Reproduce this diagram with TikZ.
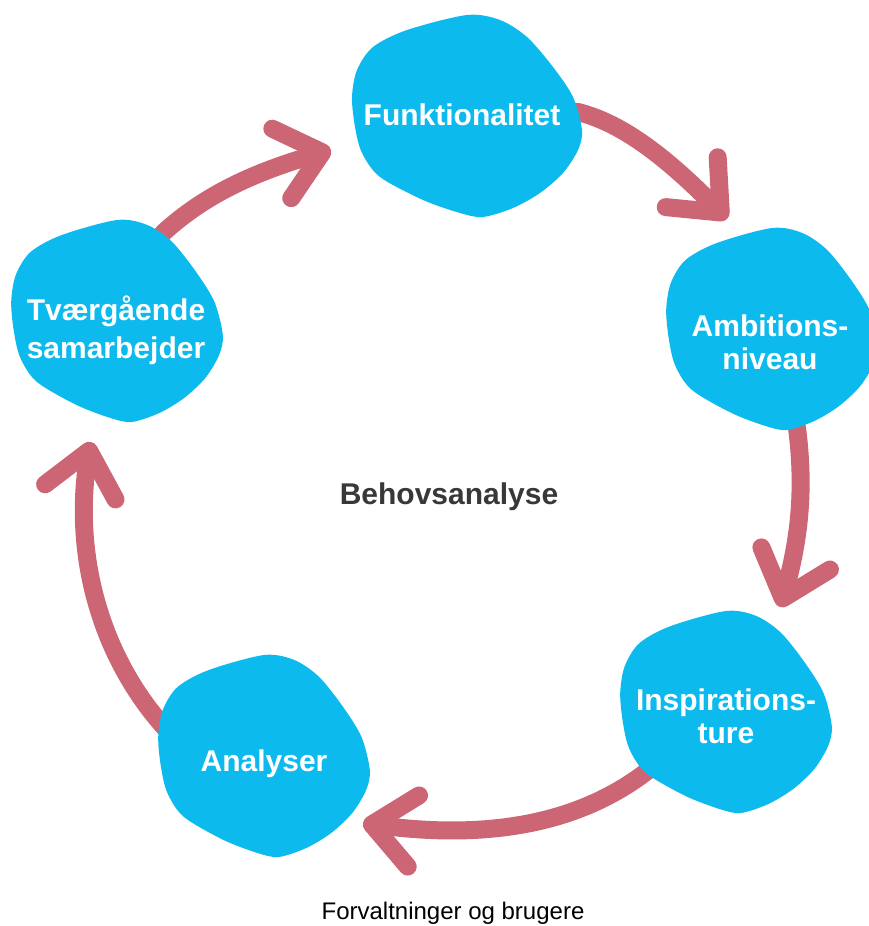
\documentclass[tikz,border=0pt]{standalone}
\usepackage{fontspec}
\setmainfont{Liberation Sans}
\usepackage{xcolor}
\usepackage{tikz}
\usetikzlibrary{arrows.meta,bending}
\definecolor{blobblue}{HTML}{0DBAED}
\definecolor{arrowred}{HTML}{CD6674}
\definecolor{titlegray}{HTML}{383838}
\tikzset{loopline/.style={->,draw=arrowred,line width=18pt,line cap=round,line join=round},
  lbl/.style={text=white,font=\fontsize{30}{33}\selectfont\bfseries,align=center,inner sep=0pt},
  blob/.pic={\fill[blobblue] plot[smooth cycle] coordinates {(0,-101) (33,-96) (60,-79) (86,-49) (106,-19) (115,14) (111,34) (96,57) (73,77) (46,92) (16,101) (-7,97) (-44,84) (-87,61) (-105,37) (-112,11) (-115,-19) (-110,-46) (-94,-69) (-60,-86)};}}

\begin{document}
\begin{tikzpicture}[x=1pt, y=-1pt, >={Straight Barb[length=42pt,width=72pt,round]}]
        \useasboundingbox (0,0) rectangle (868,926);
        % blob centres
        \coordinate (fun) at (467,116);
        \coordinate (amb) at (772,329);
        \coordinate (insp) at (726,712);
        \coordinate (ana) at (264,756);
        \coordinate (tva) at (117,321);
        % arrow tips
        \coordinate (t1) at (727,219);
        \coordinate (t2) at (780,607);
        \coordinate (t3) at (363,823);
        \coordinate (t4) at (91,442);
        \coordinate (t5) at (331,150);
        \draw[loopline] (fun) -- (578,112) .. controls (630,125) and (680,170) .. (t1);
        \draw[loopline] (amb) -- (797,428) .. controls (805,490) and (800,545) .. (t2);
        \draw[loopline] (insp) -- (646,772) .. controls (570,830) and (470,840) .. (t3);
        \draw[loopline] (ana) -- (165,728) .. controls (95,650) and (70,540) .. (t4);
        \draw[loopline] (tva) -- (163,233) .. controls (210,190) and (265,168) .. (t5);
        % blobs
        \pic at (fun) {blob};
        \pic[xscale=0.92] at (amb) {blob};
        \pic[xscale=0.92] at (insp) {blob};
        \pic[xscale=0.92] at (ana) {blob};
        \pic[xscale=0.92] at (tva) {blob};
        % texts
        \node[lbl] (funlbl) at (462,115) {Funktionalitet};
        \node[lbl] (amblbl) at (770,342) {Ambitions-\\niveau};
        \node[lbl] (insplbl) at (726,716) {Inspirations-\\ture};
        \node[lbl] (analbl) at (264,764) {Analyser};
        \node[lbl,font=\fontsize{30}{38}\selectfont\bfseries] (tvalbl) at (116,330) {Tværgående\\samarbejder};
        \node[font=\fontsize{30}{33}\selectfont\bfseries,text=titlegray,inner sep=0pt] (title) at (449,497) {Behovsanalyse};
        \node[font=\fontsize{24}{28}\selectfont,inner sep=0pt] (note) at (453,913) {Forvaltninger og brugere};
\end{tikzpicture}
\end{document}
